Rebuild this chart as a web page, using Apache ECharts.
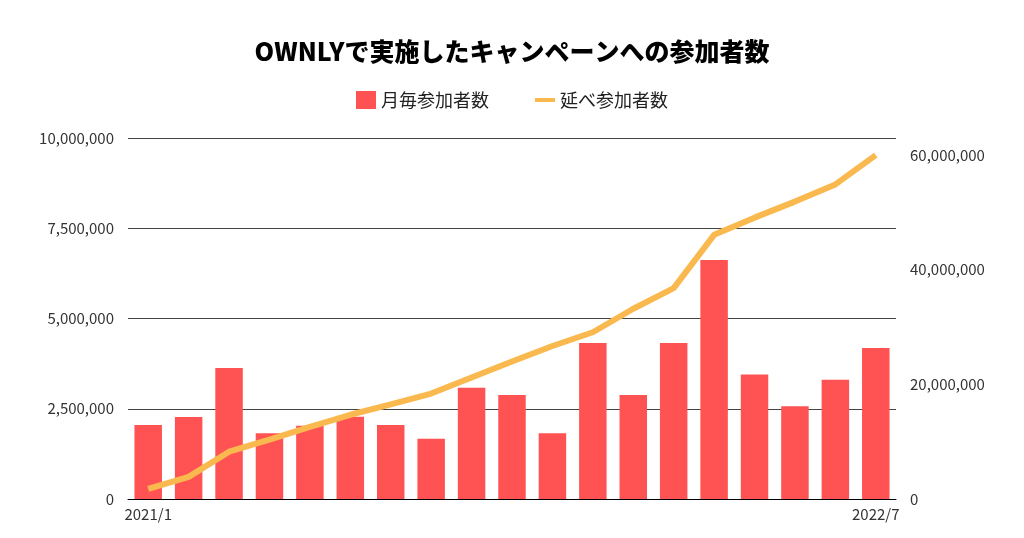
<!DOCTYPE html>
<html><head><meta charset="utf-8">
<script src="https://cdn.jsdelivr.net/npm/echarts@6/dist/echarts.min.js"></script>
<style>html,body{margin:0;padding:0;background:#fff}#c{width:1024px;height:538px}</style>
</head><body><div id="c"></div>
<script>
const months = ['2021/1','2021/2','2021/3','2021/4','2021/5','2021/6','2021/7','2021/8','2021/9','2021/10','2021/11','2021/12','2022/1','2022/2','2022/3','2022/4','2022/5','2022/6','2022/7'];
const monthly = [2050000,2270000,3630000,1820000,2030000,2280000,2050000,1670000,3080000,2880000,1820000,4320000,2880000,4320000,6620000,3450000,2570000,3300000,4180000];
const cumulative = [1750000,3860000,8250000,10350000,12600000,14700000,16500000,18400000,21200000,24000000,26700000,29100000,33200000,36800000,46100000,49100000,51900000,54900000,60000000];
const F = '"Noto Sans CJK JP","Noto Sans",sans-serif';
const fmt = v => v.toLocaleString('en-US');
const chart = echarts.init(document.getElementById('c'));
chart.setOption({
  textStyle:{fontFamily:F},
  title:{text:'OWNLYで実施したキャンペーンへの参加者数',left:'center',top:34,textStyle:{fontFamily:F,fontSize:25,fontWeight:900,color:'#000'}},
  legend:{top:86,left:'center',itemGap:46,textStyle:{fontFamily:F,fontSize:18,color:'#222'},
    data:[{name:'月毎参加者数',icon:'rect',itemStyle:{}},{name:'延べ参加者数',icon:'path://M0,0h30v6h-30z'}],itemWidth:20,itemHeight:18},
  grid:{left:128,right:128,top:138,bottom:39},
  xAxis:{type:'category',data:months,axisTick:{show:false},axisLine:{lineStyle:{color:'#000'}},
    axisLabel:{interval:0,fontSize:15,color:'#333',formatter:(v,i)=>(i===0||i===months.length-1)?v:''}},
  yAxis:[
    {type:'value',min:0,max:10000000,interval:2500000,axisLabel:{formatter:fmt,fontSize:15,color:'#333',margin:14},
     splitLine:{lineStyle:{color:'#444'}}},
    {type:'value',min:0,max:63000000,interval:20000000,axisLabel:{formatter:v=>v>60000000?'':fmt(v),fontSize:15,color:'#333',margin:14,showMaxLabel:false},splitLine:{show:false}}
  ],
  series:[
    {name:'月毎参加者数',type:'bar',data:monthly,barWidth:'68%',itemStyle:{color:'#FF5252'}},
    {name:'延べ参加者数',type:'line',yAxisIndex:1,data:cumulative,showSymbol:false,symbol:'none',lineStyle:{color:'#F9B94F',width:6},itemStyle:{color:'#F9B94F'}}
  ]
});
</script></body></html>
